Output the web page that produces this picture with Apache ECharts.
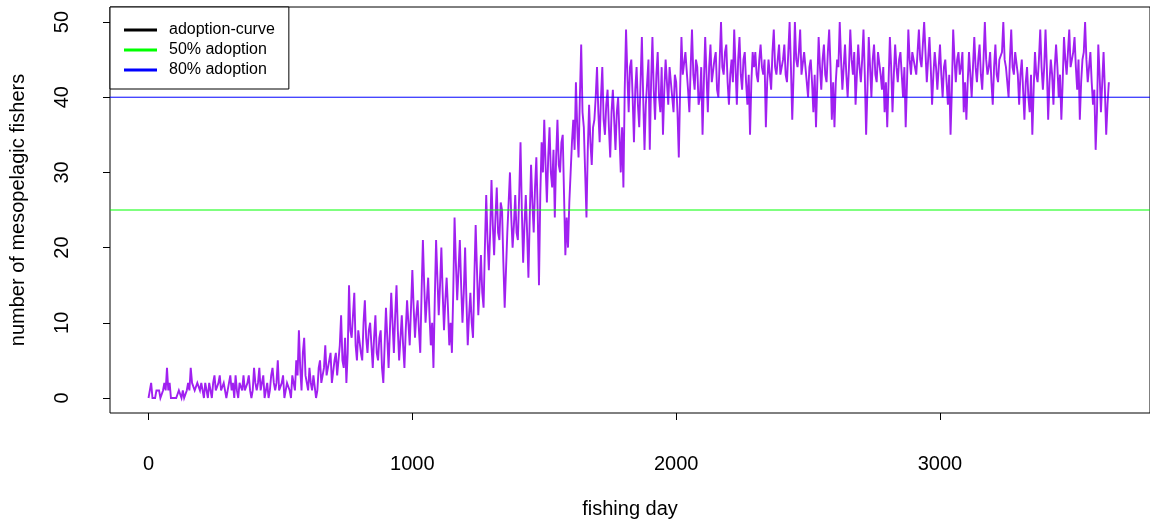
<!DOCTYPE html>
<html>
<head>
<meta charset="utf-8">
<script src="https://cdn.jsdelivr.net/npm/echarts@6/dist/echarts.min.js"></script>
<style>
html,body{margin:0;padding:0;background:#fff;}
#chart{width:1150px;height:524px;}
</style>
</head>
<body>
<div id="chart"></div>
<script>
// sampling step of the read-off series (days between readings)
const dayStep = 5;
// number of mesopelagic fishers, read every 5 fishing days from day 0 (one line = 100 days)
const fishers = [
  0,1,2,0,0,0,1,1,1,0,0,1,2,1,4,1,2,0,0,0,
  0,0,0,1,1,0,1,0,0,1,2,1,4,2,2,1,1,2,2,1,
  2,1,0,2,1,0,2,1,0,2,3,1,1,2,3,1,1,2,2,0,
  1,2,3,1,2,0,3,1,0,2,2,1,3,1,1,2,3,1,0,1,
  4,2,1,2,4,1,2,3,0,1,2,0,1,3,4,2,1,2,5,1,
  1,2,3,0,0,2,2,1,0,3,3,1,5,3,9,4,1,6,8,3,
  2,1,4,2,1,3,3,0,1,4,5,2,2,4,7,3,3,5,6,2,
  2,5,6,3,3,7,11,5,4,8,2,6,15,9,8,11,14,7,5,9,
  9,6,5,10,13,8,6,9,10,7,4,8,11,6,5,8,9,4,2,7,
  12,8,4,9,14,10,6,11,15,9,5,8,11,7,4,9,13,10,7,12,
  17,12,8,11,13,9,6,14,21,15,10,13,16,11,7,10,4,13,21,16,
  11,15,20,14,9,13,16,12,7,10,6,14,24,18,13,17,21,15,10,14,
  20,13,7,11,14,10,8,16,23,17,11,15,19,14,12,20,27,21,17,22,
  29,23,19,24,28,22,21,26,25,18,12,17,22,26,30,24,20,23,27,22,
  21,27,34,25,18,23,27,22,16,24,31,26,22,28,32,25,15,27,34,30,
  37,31,26,32,36,30,28,33,24,32,37,31,30,34,35,27,19,24,20,26,
  30,34,37,33,42,36,32,40,47,38,36,30,24,33,39,34,31,36,37,40,
  44,38,34,40,44,37,35,39,41,36,32,38,41,37,33,38,40,35,30,36,
  28,41,49,43,38,44,45,40,34,41,44,39,36,42,48,40,33,39,42,45,
  33,42,48,41,37,43,46,40,38,44,35,41,45,42,39,44,44,40,38,43,
  42,38,32,41,48,43,43,46,46,41,38,44,49,43,41,45,44,39,40,44,
  35,42,48,43,38,44,47,42,42,45,46,41,40,45,50,44,43,46,47,42,
  39,43,45,42,49,44,39,45,48,43,41,45,46,42,39,43,35,42,46,44,
  46,43,42,45,47,44,43,45,36,42,45,43,41,46,49,44,43,45,47,43,
  43,45,47,43,42,46,50,44,37,43,50,45,44,46,49,43,43,46,46,42,
  40,44,45,42,38,43,36,42,48,44,41,45,47,43,42,46,49,44,37,42,
  36,42,45,44,50,45,41,44,47,43,40,44,49,45,43,46,39,43,47,44,
  42,45,49,43,35,41,48,44,40,45,47,43,42,46,46,43,41,44,38,42,
  36,42,48,44,38,43,47,44,42,45,46,43,40,44,36,42,49,45,43,46,
  46,44,43,46,49,45,44,47,50,46,42,45,48,44,39,43,46,44,41,44,
  47,43,40,44,45,42,39,43,35,41,49,45,42,45,46,43,44,46,38,42,
  37,42,46,43,40,44,48,44,42,45,47,43,41,45,50,45,43,44,46,42,
  39,44,47,43,42,45,45,46,50,45,44,42,40,45,49,44,43,46,46,43,
  39,43,45,41,37,42,44,40,38,43,35,41,46,43,42,45,49,44,41,44,
  49,44,37,42,45,43,39,44,47,44,40,43,37,42,48,45,43,46,49,44,
  44,46,48,44,41,45,37,42,45,46,50,45,42,44,46,42,39,41,33,38,
  47,43,38,42,46,41,35,39,42
];
const seriesNames = ['adoption-curve', '50% adoption', '80% adoption'];
const adoptionLevels = [25, 40];          // 50% and 80% of 50 fishers
const xTicks = [0, 1000, 2000, 3000];
const yTicks = [0, 10, 20, 30, 40, 50];
const xRange = [-146, 3796];
const yRange = [-2, 52];

const curve = fishers.map((v, i) => [i * dayStep, v]);
const levelLine = lvl => [[xRange[0], lvl], [xRange[1], lvl]];
const FONT = '"Liberation Sans", Arial, sans-serif';
const PURPLE = '#a020f0', GREEN = '#00ff00', BLUE = '#0000ff';

const chart = echarts.init(document.getElementById('chart'), null, {renderer: 'canvas'});
chart.setOption({
  animation: false,
  backgroundColor: '#ffffff',
  textStyle: {fontFamily: FONT},
  grid: {
    left: 110, top: 7, right: -8, bottom: 109,
    show: true, borderColor: '#000', borderWidth: 1, backgroundColor: 'transparent'
  },
  legend: {
    left: 110, top: 7,
    orient: 'vertical',
    backgroundColor: '#fff',
    borderColor: '#000', borderWidth: 1, borderRadius: 0,
    padding: [15, 14, 11, 14],
    itemGap: 4,
    itemWidth: 33, itemHeight: 3,
    icon: 'rect',
    selectedMode: false,
    textStyle: {fontFamily: FONT, fontSize: 16, color: '#000', lineHeight: 16, padding: [0, 0, 0, 7]},
    data: [
      {name: seriesNames[0], itemStyle: {color: '#000000'}},
      {name: seriesNames[1], itemStyle: {color: GREEN}},
      {name: seriesNames[2], itemStyle: {color: BLUE}}
    ],
    z: 10
  },
  xAxis: {
    type: 'value',
    min: xRange[0], max: xRange[1],
    name: 'fishing day',
    nameLocation: 'middle',
    nameGap: 86,
    nameTextStyle: {fontFamily: FONT, fontSize: 20, color: '#000'},
    axisLine: {show: false, onZero: false},
    axisTick: {show: true, inside: false, length: 7, customValues: xTicks, lineStyle: {color: '#000'}},
    axisLabel: {show: true, customValues: xTicks, margin: 41, fontSize: 20, color: '#000', fontFamily: FONT,
      formatter: v => String(v)},
    splitLine: {show: false}
  },
  yAxis: {
    type: 'value',
    min: yRange[0], max: yRange[1],
    name: 'number of mesopelagic fishers',
    nameLocation: 'middle',
    nameGap: 82,
    nameRotate: 90,
    nameTextStyle: {fontFamily: FONT, fontSize: 20, color: '#000'},
    axisLine: {show: false, onZero: false},
    axisTick: {show: true, inside: false, length: 7, customValues: yTicks, lineStyle: {color: '#000'}},
    axisLabel: {show: true, customValues: yTicks, rotate: 90, margin: 38, fontSize: 20, color: '#000', fontFamily: FONT,
      formatter: v => String(v)},
    splitLine: {show: false}
  },
  series: [
    {
      name: seriesNames[0],
      type: 'line',
      data: curve,
      showSymbol: false,
      symbol: 'none',
      lineStyle: {color: PURPLE, width: 1.9, join: 'miter', miterLimit: 4},
      itemStyle: {color: PURPLE},
      emphasis: {disabled: true},
      z: 2
    },
    {
      name: seriesNames[1], type: 'line', data: levelLine(adoptionLevels[0]),
      showSymbol: false, symbol: 'none', silent: true,
      itemStyle: {color: GREEN}, lineStyle: {color: GREEN, width: 1},
      emphasis: {disabled: true}, z: 3
    },
    {
      name: seriesNames[2], type: 'line', data: levelLine(adoptionLevels[1]),
      showSymbol: false, symbol: 'none', silent: true,
      itemStyle: {color: BLUE}, lineStyle: {color: BLUE, width: 1},
      emphasis: {disabled: true}, z: 3
    }
  ]
});
</script>
</body>
</html>
